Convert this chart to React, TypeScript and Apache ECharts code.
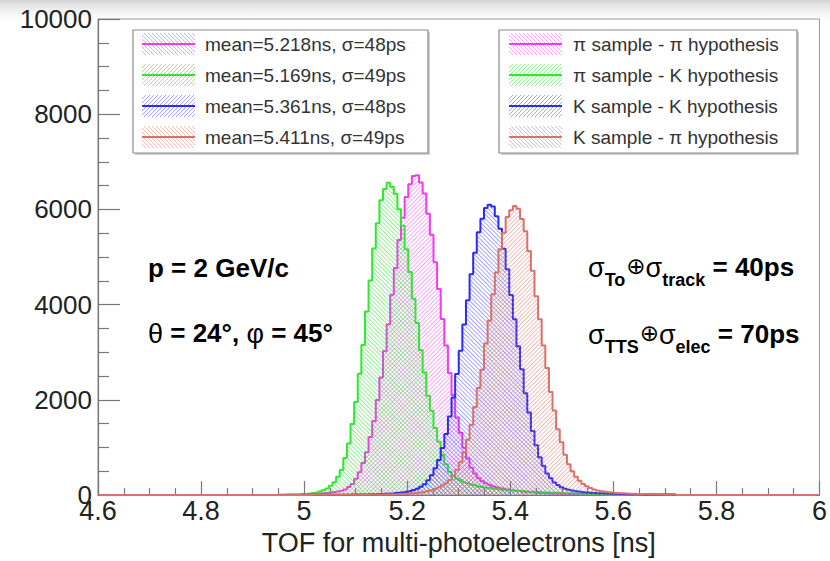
import { useEffect, useRef } from "react";
import * as echarts from "echarts";

// ---------------- data ----------------
const X_MIN = 4.6;
const X_MAX = 6.0;
const BIN_WIDTH = 0.007; // 200 bins between 4.6 and 6.0 ns
const N_BINS = 200;
const FIRST_LISTED_BIN = 50; // bins before/after the listed ones are empty

// pi sample - pi hypothesis (magenta)
const piPi = [
  8, 9, 10, 11, 12, 14, 16, 19, 21, 25,
  30, 33, 41, 47, 58, 67, 79, 91, 118, 172,
  232, 345, 480, 676, 901, 1218, 1558, 1997, 2471, 3029,
  3590, 4208, 4771, 5356, 5826, 6263, 6527, 6702, 6718, 6566,
  6334, 5912, 5468, 4889, 4330, 3698, 3142, 2566, 2101, 1632,
  1309, 992, 768, 574, 455, 356, 298, 247, 217, 186,
  167, 144, 131, 115, 105, 93, 86, 76, 71, 63,
  59, 52, 49, 43, 41, 36, 35, 30, 29, 25,
  24, 22, 21, 20, 19, 18, 17, 16, 15, 14,
  14, 13, 13, 12, 12, 11, 11, 10, 10, 10,
  9, 9, 9, 8, 8, 8, 7, 7, 7, 7,
];
// pi sample - K hypothesis (green)
const piK = [
  7, 8, 10, 11, 13, 15, 20, 25, 33, 43,
  56, 74, 101, 138, 196, 268, 384, 527, 781, 1083,
  1492, 1958, 2547, 3151, 3856, 4507, 5178, 5712, 6193, 6431,
  6562, 6478, 6331, 6004, 5657, 5163, 4688, 4122, 3617, 3049,
  2574, 2088, 1771, 1409, 1118, 842, 648, 489, 404, 347,
  314, 271, 249, 217, 203, 182, 172, 155, 149, 135,
  130, 118, 113, 103, 100, 91, 88, 80, 78, 71,
  69, 63, 61, 55, 54, 49, 48, 43, 42, 38,
  37, 33, 33, 29, 28, 25, 25, 22, 21, 20,
  19, 17, 18, 15, 16, 14, 14, 13, 13, 11,
  12, 11, 10, 10, 10, 9, 9, 8, 8, 8,
];
// K sample - K hypothesis (blue)
const kK = [
  3, 3, 4, 4, 4, 4, 5, 5, 5, 5,
  6, 6, 6, 7, 7, 7, 8, 8, 9, 9,
  10, 11, 12, 13, 15, 17, 19, 21, 24, 27,
  31, 36, 42, 49, 58, 71, 84, 106, 134, 176,
  228, 312, 418, 563, 736, 991, 1283, 1652, 2051, 2542,
  3031, 3584, 4092, 4641, 5088, 5523, 5806, 6031, 6098, 6062,
  5858, 5592, 5176, 4742, 4203, 3693, 3128, 2641, 2139, 1733,
  1346, 1048, 794, 615, 455, 354, 267, 212, 163, 136,
  111, 96, 81, 72, 61, 56, 48, 45, 39, 37,
  32, 31, 27, 26, 23, 23, 20, 20, 17, 17,
  16, 15, 14, 14, 13, 12, 12, 11, 11, 10,
];
// K sample - pi hypothesis (red)
const kPi = [
  3, 3, 3, 3, 4, 4, 4, 4, 4, 5,
  5, 5, 5, 6, 6, 6, 6, 7, 7, 7,
  8, 8, 8, 9, 9, 10, 11, 12, 13, 14,
  16, 18, 20, 23, 26, 30, 35, 41, 48, 57,
  69, 84, 103, 128, 160, 200, 250, 315, 405, 530,
  690, 900, 1160, 1480, 1850, 2248, 2631, 3182, 3661, 4217,
  4676, 5163, 5508, 5841, 5983, 6071, 6012, 5797, 5541, 5128,
  4712, 4176, 3694, 3143, 2672, 2163, 1778, 1384, 1108, 850,
  650, 500, 385, 300, 235, 185, 148, 120, 98, 82,
  70, 60, 52, 46, 41, 37, 33, 30, 27, 25,
  23, 21, 19, 18, 17, 16, 15, 14, 13, 12,
];

const fitLabels = [
  "mean=5.218ns, σ=48ps",
  "mean=5.169ns, σ=49ps",
  "mean=5.361ns, σ=48ps",
  "mean=5.411ns, σ=49ps",
];
const sampleLabels = [
  "π sample - π hypothesis",
  "π sample - K hypothesis",
  "K sample - K hypothesis",
  "K sample - π hypothesis",
];
const seriesCounts = [piPi, piK, kK, kPi];
const lineColors = ["#f03cf0", "#33e633", "#2b2bf5", "#d6736a"];
const hatchColors = [
  "rgba(240,80,240,0.5)",
  "rgba(48,221,48,0.5)",
  "rgba(58,58,245,0.45)",
  "rgba(221,122,112,0.5)",
];
const hatchDirs = [1, -1, -1, 1]; // 1 = "\\\\", -1 = "////"

const Y_MAX = 10000;
const Y_INTERVAL = 2000;
const X_INTERVAL = 0.2;
const X_TITLE = "TOF for multi-photoelectrons [ns]";

const FONT = "'Liberation Sans', Arial, Helvetica, sans-serif";

function histData(counts: number[]) {
  const out: [number, number][] = [];
  for (let i = 0; i < N_BINS; i++) {
    const j = i - FIRST_LISTED_BIN;
    const v = j >= 0 && j < counts.length ? counts[j] : 0;
    out.push([X_MIN + BIN_WIDTH * (i + 0.5), v]);
  }
  return out;
}

// hatch lines for a legend swatch rectangle
function swatchHatch(x: number, y: number, w: number, h: number, dir: number, color: string) {
  const out: any[] = [];
  const step = 4;
  if (dir === 1) {
    for (let c = -h; c <= w; c += step) {
      const v1 = Math.max(0, -c);
      const v2 = Math.min(h, w - c);
      if (v2 <= v1) continue;
      out.push({
        type: "line",
        shape: { x1: x + v1 + c, y1: y + v1, x2: x + v2 + c, y2: y + v2 },
        style: { stroke: color, lineWidth: 1 },
        z: 12,
      });
    }
  } else {
    for (let c = 0; c <= w + h; c += step) {
      const u1 = Math.max(0, c - h);
      const u2 = Math.min(w, c);
      if (u2 <= u1) continue;
      out.push({
        type: "line",
        shape: { x1: x + u1, y1: y + c - u1, x2: x + u2, y2: y + c - u2 },
        style: { stroke: color, lineWidth: 1 },
        z: 12,
      });
    }
  }
  return out;
}

export default function App() {
  const ref = useRef<HTMLDivElement>(null);
  useEffect(() => {
    const chart = echarts.init(ref.current!, null, { renderer: "svg" });

    const legendBlock = (labels: string[], boxX: number, boxW: number, sx: number, tx: number) => {
      const rows = [44, 75, 106, 137];
      const children: any[] = [
        {
          type: "rect",
          shape: { x: boxX + 2, y: 32, width: boxW, height: 123 },
          style: { fill: "#cfcfcf" },
          z: 10,
        },
        {
          type: "rect",
          shape: { x: boxX, y: 30, width: boxW, height: 123 },
          style: { fill: "#fff", stroke: "#8a8a8a", lineWidth: 1.2 },
          z: 11,
        },
      ];
      labels.forEach((lab, i) => {
        const cy = rows[i];
        children.push(...swatchHatch(sx, cy - 11, 53, 22, hatchDirs[i], hatchColors[i]));
        children.push({
          type: "line",
          shape: { x1: sx, y1: cy, x2: sx + 53, y2: cy },
          style: { stroke: lineColors[i], lineWidth: 2 },
          z: 13,
        });
        children.push({
          type: "text",
          x: tx,
          y: cy,
          style: {
            text: lab,
            fill: "#333",
            font: `19px ${FONT}`,
            verticalAlign: "middle",
            align: "left",
          },
          z: 13,
        });
      });
      return children;
    };

    const richMain = {
      m: { fontSize: 26, fontWeight: "bold", fontFamily: FONT, lineHeight: 30, verticalAlign: "top", fill: "#000" },
      g: { fontSize: 27, fontWeight: "normal", fontFamily: FONT, lineHeight: 30, verticalAlign: "top", fill: "#000" },
      s: {
        fontSize: 18,
        fontWeight: "bold",
        fontFamily: FONT,
        lineHeight: 18,
        verticalAlign: "top",
        padding: [17, 0, 0, 0],
        fill: "#000",
      },
      o: {
        fontSize: 23,
        fontWeight: "normal",
        fontFamily: "'DejaVu Sans', sans-serif",
        lineHeight: 24,
        verticalAlign: "top",
        padding: [0, 0, 0, 1],
        fill: "#000",
      },
    };

    const option: any = {
      animation: false,
      backgroundColor: "#fff",
      grid: {
        left: 98,
        right: 6,
        top: 19,
        bottom: 62,
        show: true,
        borderColor: "#999",
        borderWidth: 1,
        backgroundColor: "transparent",
      },
      xAxis: {
        type: "value",
        min: X_MIN,
        max: X_MAX,
        interval: X_INTERVAL,
        name: X_TITLE,
        nameLocation: "middle",
        nameGap: 30,
        nameTextStyle: { fontSize: 27, color: "#222", fontFamily: FONT },
        axisLine: { show: true, onZero: false, lineStyle: { color: "#777", width: 1 } },
        axisTick: { show: true, inside: true, length: 14, lineStyle: { color: "#777", width: 1.2 } },
        minorTick: { show: true, splitNumber: 4, length: 7, lineStyle: { color: "#777", width: 1.2 } },
        axisLabel: {
          fontSize: 27,
          color: "#222",
          fontFamily: FONT,
          margin: 2,
          formatter: (v: number) => String(Math.round(v * 10) / 10),
        },
        splitLine: { show: false },
      },
      yAxis: {
        type: "value",
        min: 0,
        max: Y_MAX,
        interval: Y_INTERVAL,
        axisLine: { show: true, lineStyle: { color: "#777", width: 1.2 } },
        axisTick: { show: true, inside: true, length: 22, lineStyle: { color: "#777", width: 1.2 } },
        minorTick: { show: true, splitNumber: 4, length: 11, lineStyle: { color: "#777", width: 1.2 } },
        axisLabel: {
          fontSize: 26,
          color: "#222",
          fontFamily: FONT,
          margin: 6,
          formatter: (v: number) => String(Math.round(v)),
        },
        splitLine: { show: false },
      },
      series: seriesCounts.map((counts, i) => ({
        type: "line",
        name: sampleLabels[i],
        step: "middle",
        symbol: "none",
        data: histData(counts),
        lineStyle: { color: lineColors[i], width: 2 },
        itemStyle: {
          color: lineColors[i],
          decal: {
            symbol: "rect",
            symbolSize: 1,
            color: hatchColors[i],
            backgroundColor: "rgba(0,0,0,0)",
            dashArrayX: [1, 0],
            dashArrayY: [1, 2],
            rotation: hatchDirs[i] === 1 ? -Math.PI / 4 : Math.PI / 4,
          },
        },
        areaStyle: { color: "rgba(255,255,255,0)", opacity: 1 },
        z: 2 + i,
      })),
      graphic: [
        {
          type: "rect",
          shape: { x: 0, y: 0, width: 830, height: 26 },
          style: {
            fill: new echarts.graphic.LinearGradient(0, 0, 0, 1, [
              { offset: 0, color: "#d4d4d4" },
              { offset: 1, color: "rgba(255,255,255,0)" },
            ]),
          },
          z: -10,
          silent: true,
        },
        ...legendBlock(fitLabels, 133, 295, 142, 205),
        ...legendBlock(sampleLabels, 499, 298, 509, 573),
        {
          type: "text",
          x: 148,
          y: 268,
          style: { text: "p = 2 GeV/c", font: `bold 26px ${FONT}`, fill: "#000", verticalAlign: "middle" },
          z: 20,
        },
        {
          type: "text",
          x: 148,
          y: 320,
          style: {
            text: "{g|θ}{m| = 24°, }{g|φ}{m| = 45°}",
            rich: richMain,
            verticalAlign: "top",
          },
          z: 20,
        },
        {
          type: "text",
          x: 588,
          y: 254,
          style: {
            text: "{g|σ}{s|To}{o|⊕}{g|σ}{s|track}{m| = 40ps}",
            rich: richMain,
            verticalAlign: "top",
          },
          z: 20,
        },
        {
          type: "text",
          x: 588,
          y: 321,
          style: {
            text: "{g|σ}{s|TTS}{o|⊕}{g|σ}{s|elec}{m| = 70ps}",
            rich: richMain,
            verticalAlign: "top",
          },
          z: 20,
        },
      ],
    };
    chart.setOption(option);
    return () => chart.dispose();
  }, []);
  return (
    <div
      ref={ref}
      style={{ position: "absolute", left: 0, top: 0, width: 830, height: 561, background: "#fff" }}
    />
  );
}
